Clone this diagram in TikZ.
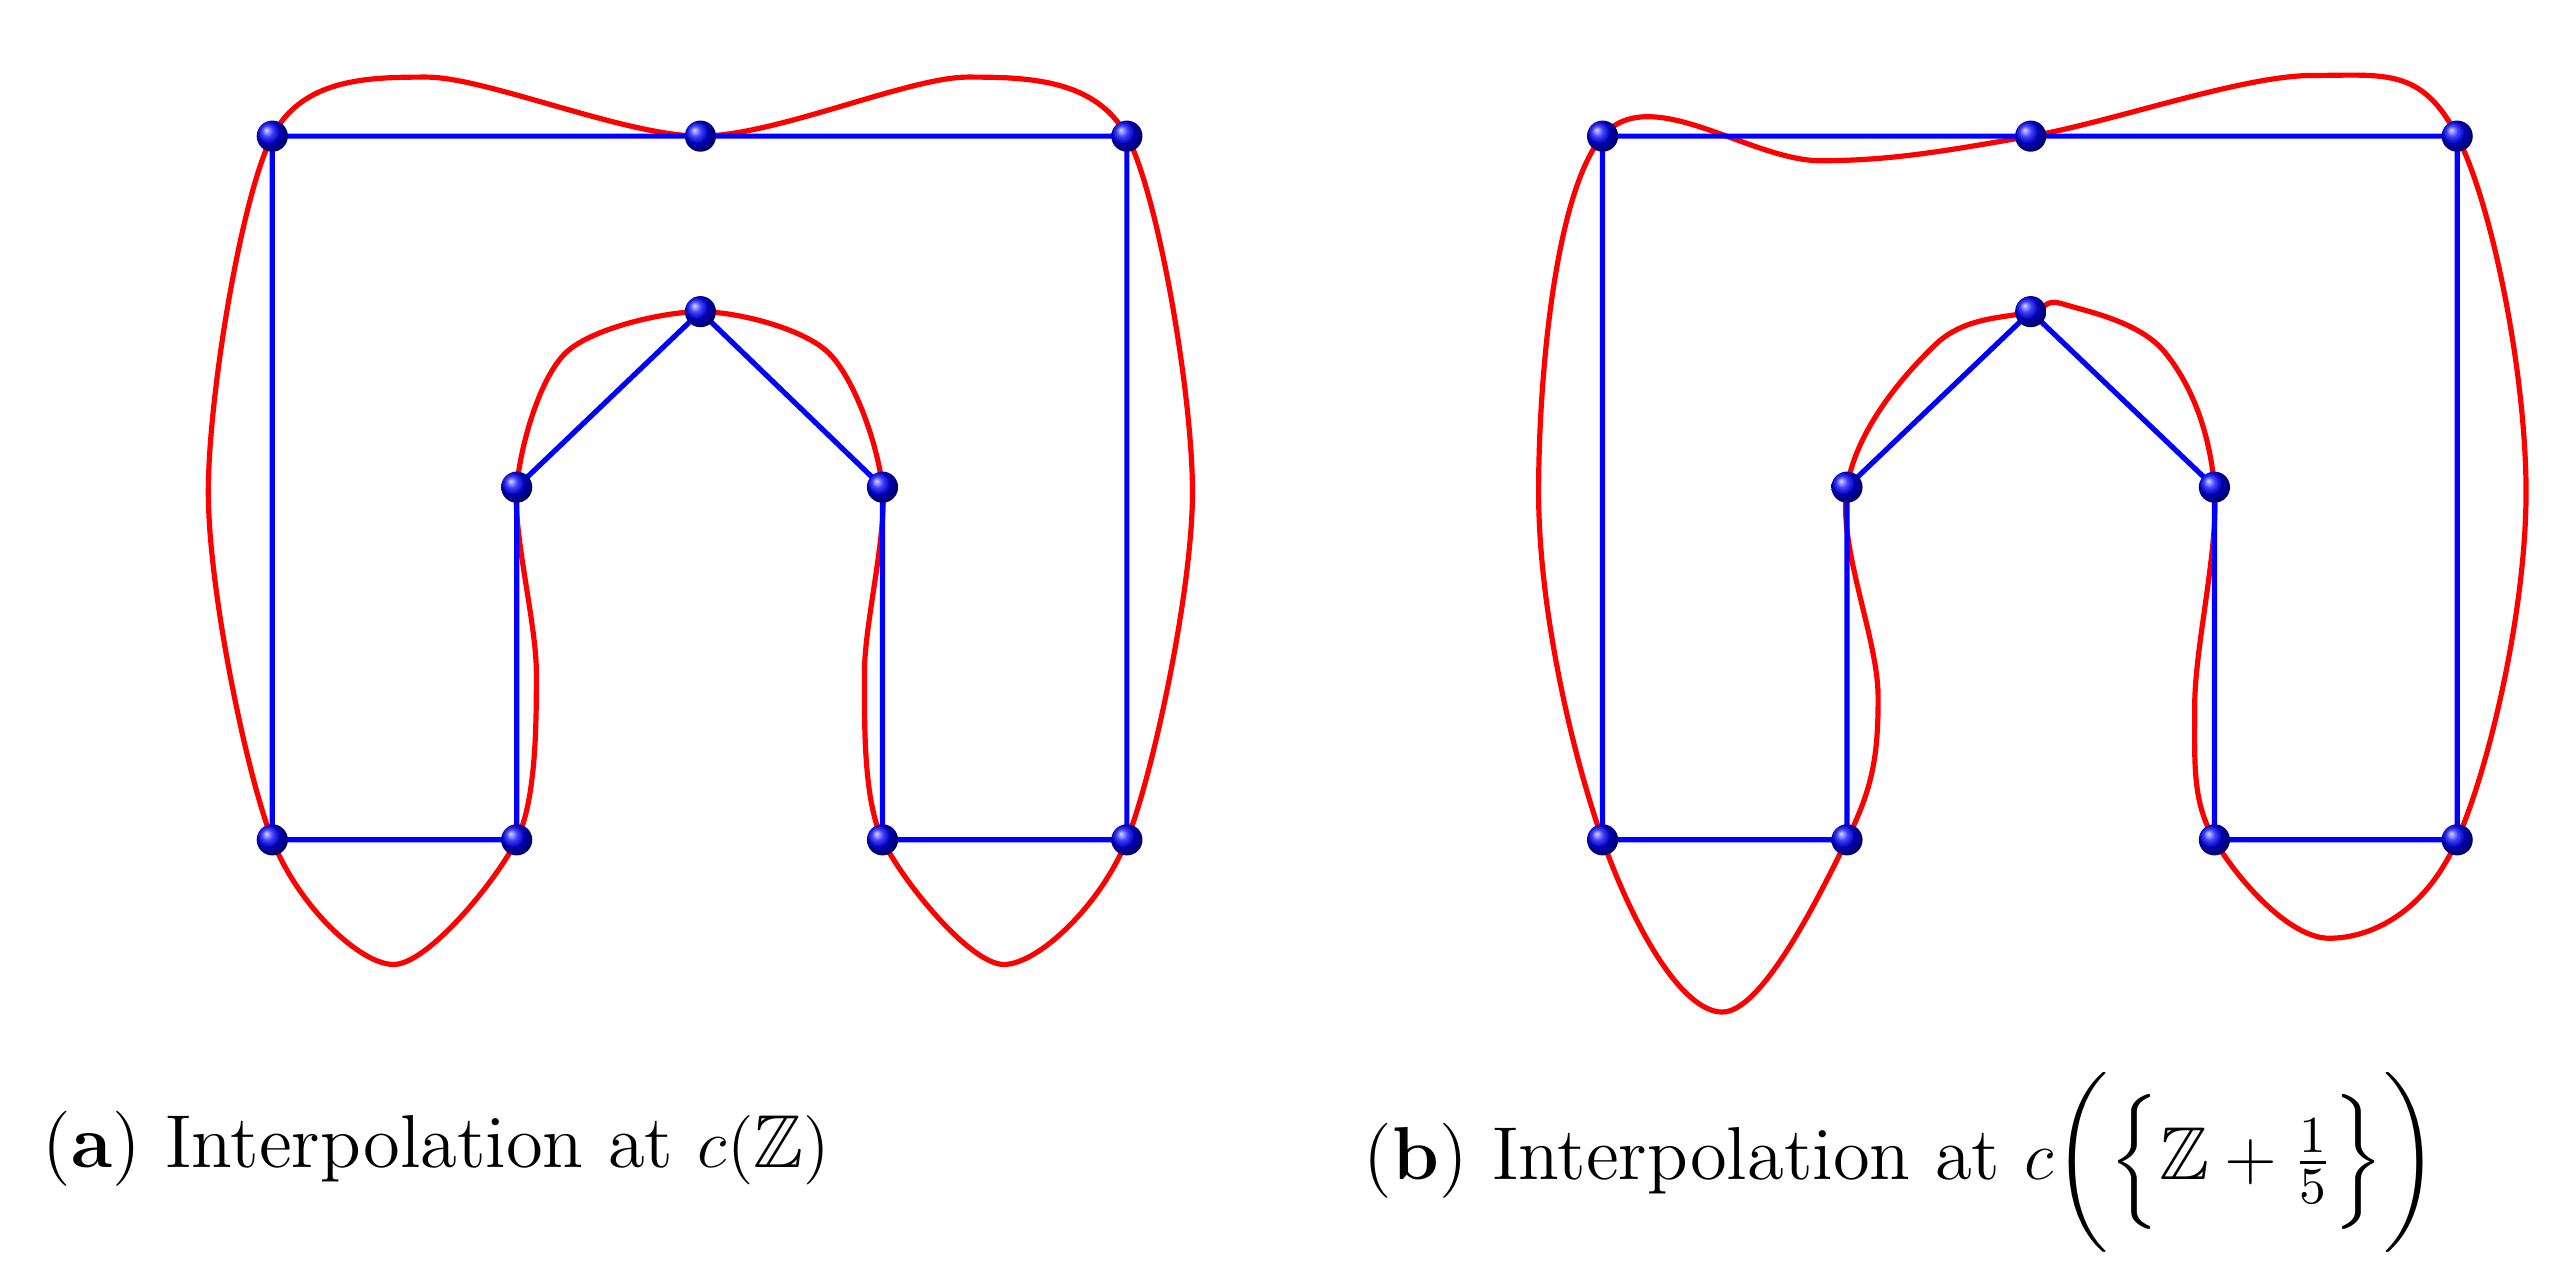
\documentclass[tikz,border=0pt]{standalone}
\usepackage{amsmath,amssymb}
\begin{document}
\begin{tikzpicture}[x=0.01cm,y=-0.01cm,
  poly/.style={blue,line width=0.9pt},
  curve/.style={red,line width=0.9pt},
  ball/.style={circle,minimum size=0.19cm,inner sep=0pt,ball color=blue}]
\useasboundingbox (0,0) rectangle (1568,773);
% panel a
\draw[curve] plot[smooth cycle,tension=0.5] coordinates{(166,83)(260,47)(427,83)(590,47)(687,83)(727,300)(687,512)(612,588)(538,512)(527,410)(538,297)(505,215)(427,190)(345,215)(315,297)(327,410)(315,512)(240,588)(166,512)(127,300)};
\draw[poly] (166,83)--(427,83)--(687,83)--(687,512)--(538,512)--(538,297)--(427,190)--(315,297)--(315,512)--(166,512)--cycle;
\foreach \n/\p in {a1/{(166,83)},a2/{(427,83)},a3/{(687,83)},a4/{(427,190)},a5/{(315,297)},a6/{(538,297)},a7/{(166,512)},a8/{(315,512)},a9/{(538,512)},a10/{(687,512)}}
  \node[ball] (\n) at \p {};
% panel b
\draw[curve] plot[smooth cycle,tension=0.6] coordinates{(977,83)(1110,98)(1238,83)(1410,46)(1498,83)(1540,300)(1498,512)(1420,572)(1350,512)(1338,430)(1350,297)(1320,215)(1260,186)(1238,190)(1180,210)(1126,297)(1145,425)(1126,512)(1050,617)(977,512)(938,300)};
\draw[poly] (977,83)--(1238,83)--(1498,83)--(1498,512)--(1350,512)--(1350,297)--(1238,190)--(1126,297)--(1126,512)--(977,512)--cycle;
\foreach \n/\p in {b1/{(977,83)},b2/{(1238,83)},b3/{(1498,83)},b4/{(1238,190)},b5/{(1126,297)},b6/{(1350,297)},b7/{(977,512)},b8/{(1126,512)},b9/{(1350,512)},b10/{(1498,512)}}
  \node[ball] (\n) at \p {};
\node[anchor=base,font=\fontsize{13}{15}\selectfont] (capa) at (266,712) {(\textbf{a}) Interpolation at $c(\mathbb{Z})$};
\node[anchor=base,font=\fontsize{13}{15}\selectfont] (capb) at (1159,719) {(\textbf{b}) Interpolation at $c\bigg(\Big\{\mathbb{Z}+\frac{1}{5}\Big\}\bigg)$};
\end{tikzpicture}
\end{document}
